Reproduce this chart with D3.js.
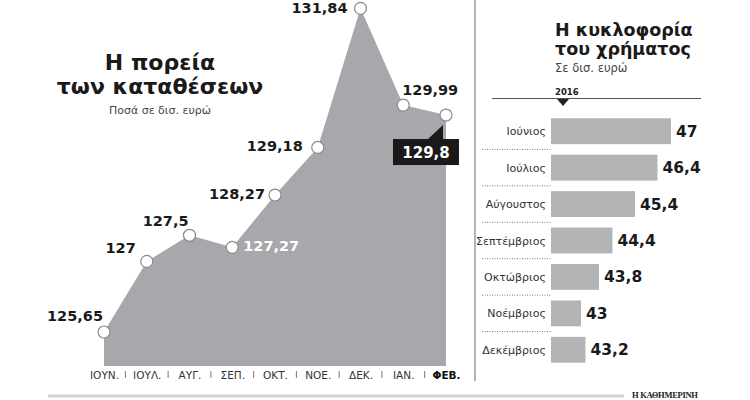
<!DOCTYPE html>
<html>
<head>
<meta charset="utf-8">
<script src="https://cdn.jsdelivr.net/npm/d3@7"></script>
<style>
  body { margin: 0; background: #fff; }
  svg { display: block; }
</style>
</head>
<body>
<svg id="chart"></svg>
<script>
// Deposits (left), in bn euro
const months = ['ΙΟΥΝ.', 'ΙΟΥΛ.', 'ΑΥΓ.', 'ΣΕΠ.', 'ΟΚΤ.', 'ΝΟΕ.', 'ΔΕΚ.', 'ΙΑΝ.', 'ΦΕΒ.'];
const deposits = [125.65, 127, 127.5, 127.27, 128.27, 129.18, 131.84, 129.99, 129.8];

// Money in circulation (right), 2016, in bn euro
const circMonths = ['Ιούνιος', 'Ιούλιος', 'Αύγουστος', 'Σεπτέμβριος', 'Οκτώβριος', 'Νοέμβριος', 'Δεκέμβριος'];
const circulation = [47, 46.4, 45.4, 44.4, 43.8, 43, 43.2];

// label placement around each point: [anchor, dx, dy]
const labelPos = [
  ['end', -1, -11], ['end', -11, -8], ['end', -1, -9], ['start', 11, 4],
  ['end', -10, 4], ['end', -15, 4], ['end', -13, 5], ['start', -1, -10], null
];

const W = 750, H = 400;
const font = '"DejaVu Sans", Verdana, sans-serif';
const fmt = v => String(v).replace('.', ',');

const svg = d3.select('#chart')
  .attr('width', W)
  .attr('height', H)
  .style('font-family', font);

svg.append('rect').attr('width', W).attr('height', H).attr('fill', '#fff');

// ---------- left: area chart ----------
const x = d3.scalePoint().domain(months).range([104, 446]);
const y = d3.scaleLinear().domain([125, 132]).range([366, 0]);

const area = d3.area()
  .x((d, i) => x(months[i]))
  .y0(y(125))
  .y1(d => y(d));

svg.append('path')
  .datum(deposits)
  .attr('fill', '#a6a8ab')
  .attr('d', area);

// month axis
const xAxis = svg.append('g')
  .attr('transform', `translate(0,${y(125)})`)
  .call(d3.axisBottom(x).tickSize(0).tickPadding(6));
xAxis.select('.domain').remove();
xAxis.selectAll('text')
  .style('font-family', font)
  .style('font-size', '10.5px')
  .style('font-weight', d => d === 'ΦΕΒ.' ? 'bold' : 'normal')
  .attr('fill', d => d === 'ΦΕΒ.' ? '#111' : '#333');

// little separators between months
svg.selectAll('.sep')
  .data(months.slice(1))
  .enter()
  .append('line')
  .attr('class', 'sep')
  .attr('x1', (d, i) => (x(months[i]) + x(d)) / 2)
  .attr('x2', (d, i) => (x(months[i]) + x(d)) / 2)
  .attr('y1', y(125) + 5)
  .attr('y2', y(125) + 12)
  .attr('stroke', '#777')
  .attr('stroke-width', 1);

// value labels
deposits.forEach((v, i) => {
  const p = labelPos[i];
  if (!p) return;
  svg.append('text')
    .attr('x', x(months[i]) + p[1])
    .attr('y', y(v) + p[2])
    .attr('text-anchor', p[0])
    .attr('font-size', 14.5)
    .attr('font-weight', 'bold')
    .attr('fill', i === 3 ? '#fff' : '#1a1a1a')
    .text(fmt(v));
});

// highlighted last value (black tag)
const last = deposits.length - 1;
const lx = x(months[last]), ly = y(deposits[last]);
const boxTop = ly + 24;
svg.append('path')
  .attr('d', `M${lx - 19},${boxTop + 1}L${lx - 3},${ly + 10}L${lx - 3},${boxTop + 1}Z`)
  .attr('fill', '#1a1a1a');
svg.append('rect')
  .attr('x', lx - 53)
  .attr('y', boxTop)
  .attr('width', 66)
  .attr('height', 26)
  .attr('fill', '#1a1a1a');
svg.append('text')
  .attr('x', lx - 20)
  .attr('y', boxTop + 19)
  .attr('text-anchor', 'middle')
  .attr('font-size', 15)
  .attr('font-weight', 'bold')
  .attr('fill', '#fff')
  .text(fmt(deposits[last]));

// points
svg.selectAll('.pt')
  .data(deposits)
  .enter()
  .append('circle')
  .attr('class', 'pt')
  .attr('cx', (d, i) => x(months[i]))
  .attr('cy', d => y(d))
  .attr('r', 6)
  .attr('fill', '#fff')
  .attr('stroke', '#8a8c8f')
  .attr('stroke-width', 1.2);

// title
const title = svg.append('g').attr('text-anchor', 'middle');
title.append('text').attr('x', 160).attr('y', 70)
  .attr('font-size', 22).attr('font-weight', 'bold').attr('fill', '#1a1a1a')
  .text('Η πορεία');
title.append('text').attr('x', 160).attr('y', 94)
  .attr('font-size', 22).attr('font-weight', 'bold').attr('fill', '#1a1a1a')
  .text('των καταθέσεων');
title.append('text').attr('x', 160).attr('y', 114)
  .attr('font-size', 11).attr('fill', '#444')
  .text('Ποσά σε δισ. ευρώ');

// ---------- divider + footer ----------
svg.append('line')
  .attr('x1', 475).attr('x2', 475).attr('y1', 0).attr('y2', 381)
  .attr('stroke', '#b5b5b5').attr('stroke-width', 2);
svg.append('line')
  .attr('x1', 48).attr('x2', 624).attr('y1', 396).attr('y2', 396)
  .attr('stroke', '#cfcfcf').attr('stroke-width', 3);
svg.append('text')
  .attr('x', 632).attr('y', 398)
  .attr('font-family', '"Liberation Serif", serif')
  .attr('font-size', 8.5).attr('font-weight', 'bold')
  .attr('letter-spacing', -0.3)
  .attr('fill', '#222')
  .text('Η ΚΑΘΗΜΕΡΙΝΗ');

// ---------- right: bar chart ----------
const xb = d3.scaleLinear().domain([41.67, 47]).range([551, 671]);
const yb = d3.scaleBand().domain(circMonths).range([113, 368])
  .paddingInner(0.29).paddingOuter(0.145);

const rt = svg.append('g');
rt.append('text').attr('x', 555).attr('y', 36)
  .attr('font-size', 17.5).attr('font-weight', 'bold').attr('fill', '#1a1a1a')
  .text('Η κυκλοφορία');
rt.append('text').attr('x', 555).attr('y', 55)
  .attr('font-size', 17.5).attr('font-weight', 'bold').attr('fill', '#1a1a1a')
  .text('του χρήματος');
rt.append('text').attr('x', 555).attr('y', 72)
  .attr('font-size', 11.5).attr('fill', '#444')
  .text('Σε δισ. ευρώ');

rt.append('text').attr('x', 555).attr('y', 95)
  .attr('font-size', 8.5).attr('font-weight', 'bold').attr('fill', '#222')
  .text('2016');
rt.append('line')
  .attr('x1', 492).attr('x2', 701).attr('y1', 98.5).attr('y2', 98.5)
  .attr('stroke', '#555').attr('stroke-width', 1);
rt.append('path')
  .attr('d', 'M557,99L569,99L563,106Z')
  .attr('fill', '#222');

rt.selectAll('.bar')
  .data(circulation)
  .enter()
  .append('rect')
  .attr('class', 'bar')
  .attr('x', xb(41.67))
  .attr('y', (d, i) => yb(circMonths[i]))
  .attr('width', d => xb(d) - xb(41.67))
  .attr('height', yb.bandwidth())
  .attr('fill', '#b3b4b6');

rt.selectAll('.val')
  .data(circulation)
  .enter()
  .append('text')
  .attr('class', 'val')
  .attr('x', d => xb(d) + 5)
  .attr('y', (d, i) => yb(circMonths[i]) + yb.bandwidth() / 2 + 5.5)
  .attr('font-size', 15.5)
  .attr('font-weight', 'bold')
  .attr('fill', '#1a1a1a')
  .text(d => fmt(d));

rt.selectAll('.mlab')
  .data(circMonths)
  .enter()
  .append('text')
  .attr('class', 'mlab')
  .attr('x', 546)
  .attr('y', d => yb(d) + yb.bandwidth() / 2 + 4)
  .attr('text-anchor', 'end')
  .attr('font-size', 11)
  .attr('fill', '#333')
  .text(d => d);

const gap = yb.step() * 0.29 / 2;
rt.selectAll('.dots')
  .data(circMonths.slice(0, -1))
  .enter()
  .append('line')
  .attr('class', 'dots')
  .attr('x1', 482).attr('x2', 552)
  .attr('y1', d => yb(d) + yb.bandwidth() + gap)
  .attr('y2', d => yb(d) + yb.bandwidth() + gap)
  .attr('stroke', '#777')
  .attr('stroke-width', 1)
  .attr('stroke-dasharray', '1,1.5');
</script>
</body>
</html>
